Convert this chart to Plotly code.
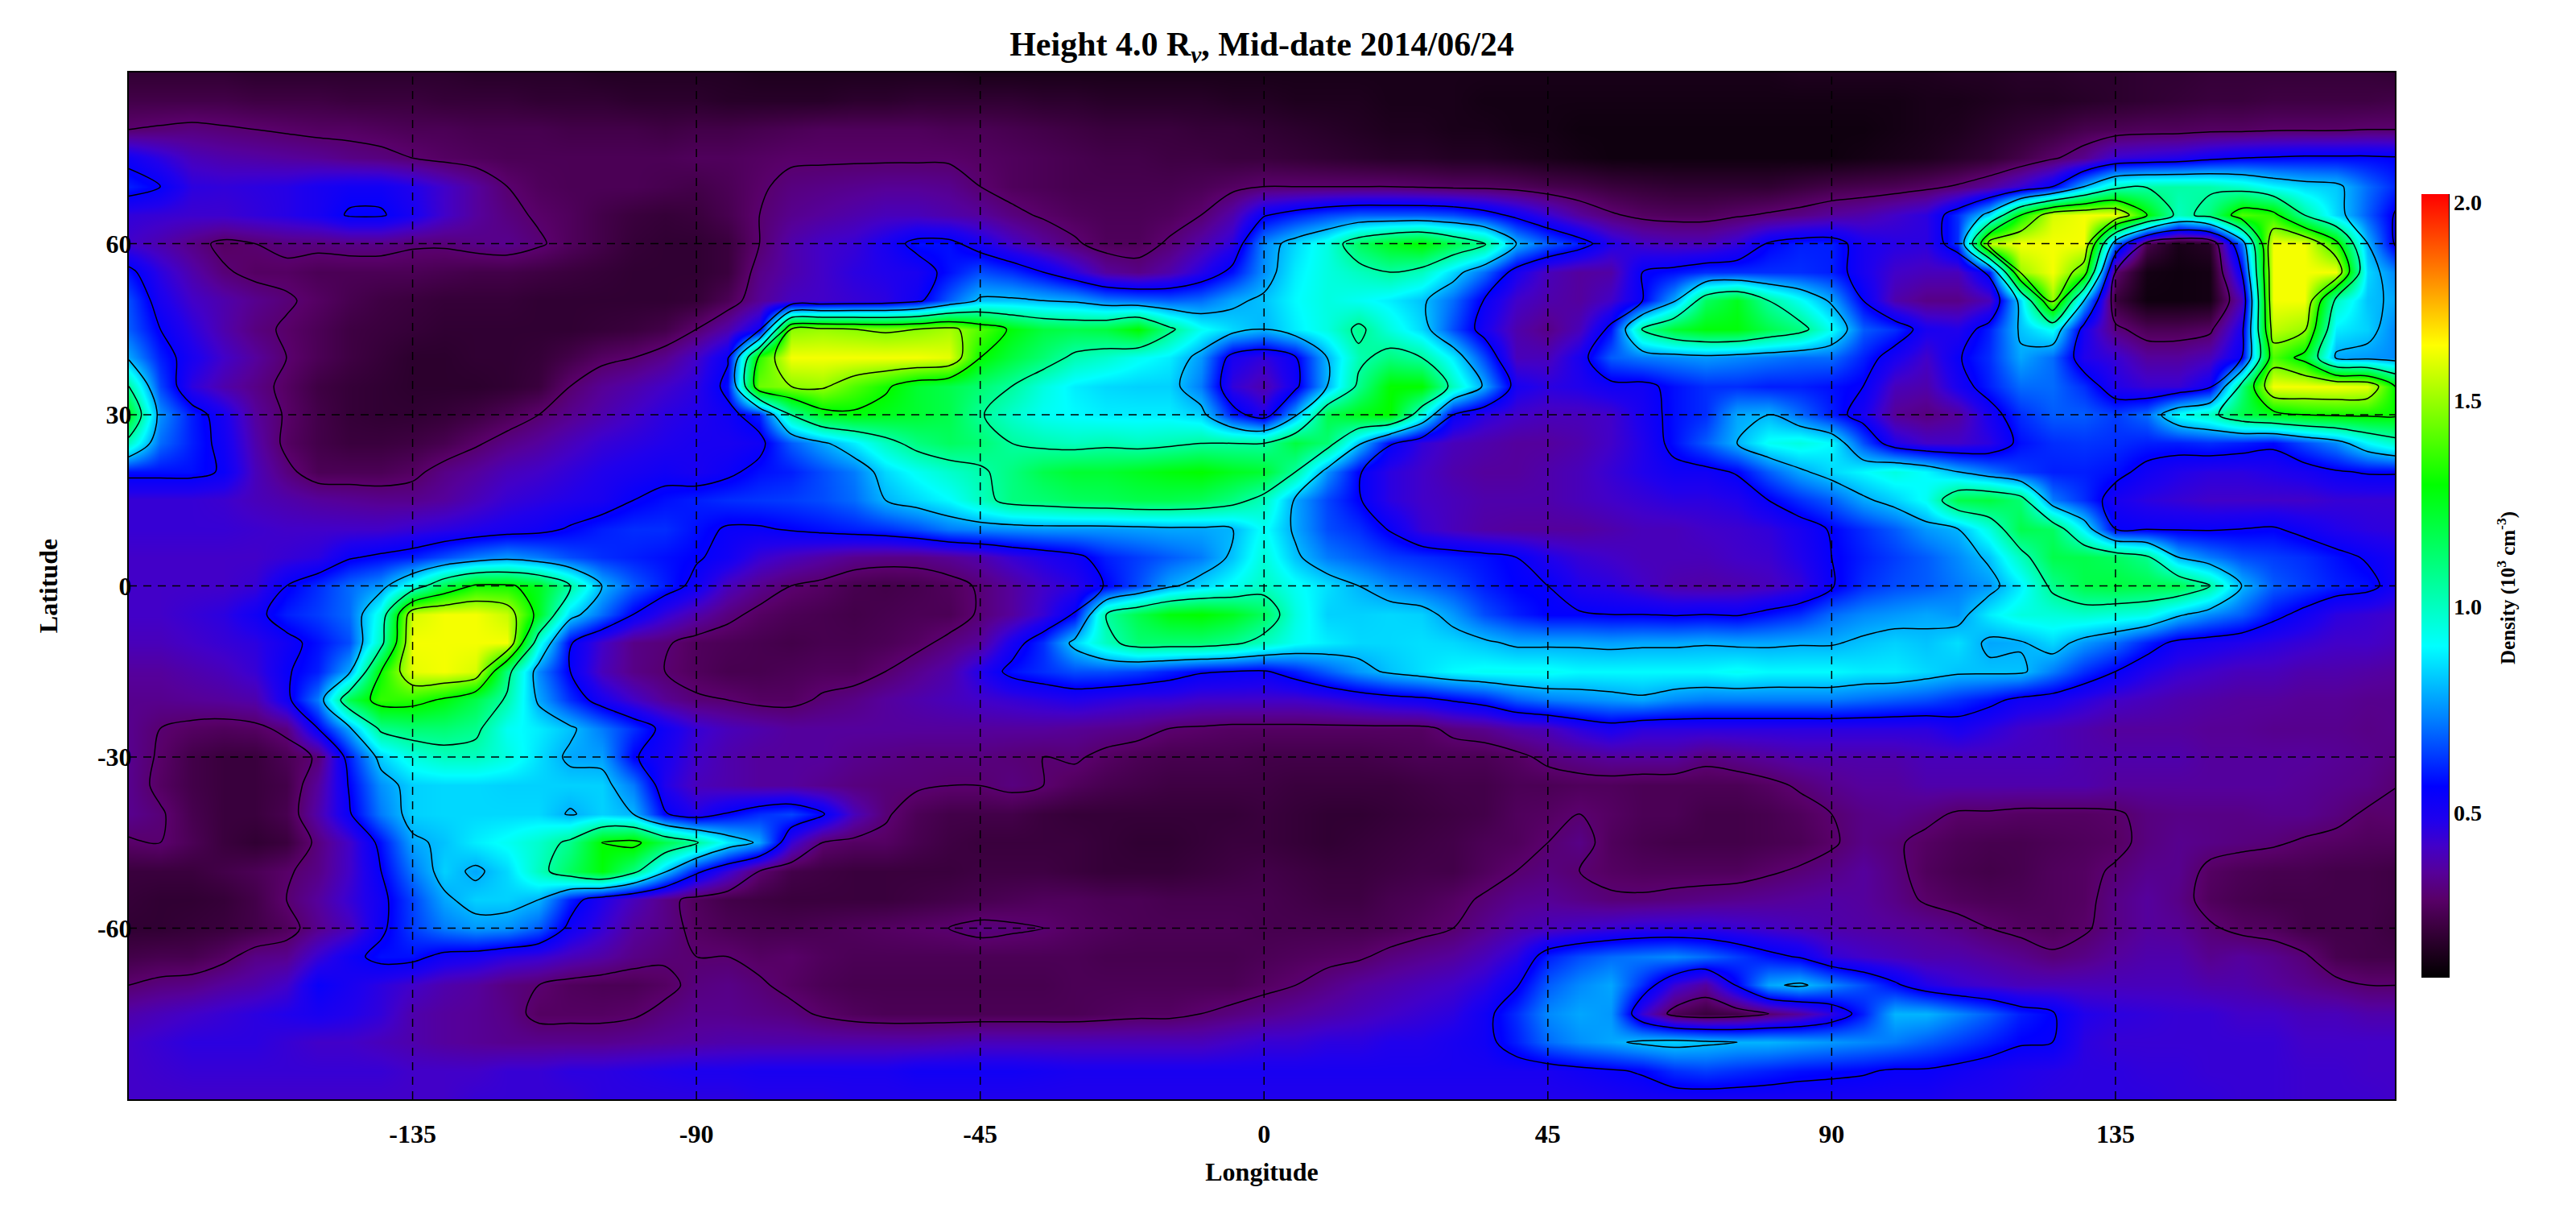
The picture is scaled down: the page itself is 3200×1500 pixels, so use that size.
import numpy as np
import plotly.graph_objects as go

# Density, in units of 0.01 x 10^5 cm^-3.
# Columns: longitude -180..180 step 5. Rows: latitude +90..-90 step 5.
longitudes = list(range(-180, 181, 5))
latitudes = list(range(90, -91, -5))

lat_p90 = [20,20,20,20,19,19,19,19,19, 19,19,18,18,18,18,17,17,17, 17,17,16,16,16,16,16,16,16, 15,15,15,15,15,15,15,15,15, 15,15,15,15,15,15,15,15,15, 15,15,15,15,15,15,15,15,16, 16,16,16,16,17,17,18,18,19, 19,20,20,21,21,21,21,21,21, 20]
lat_p85 = [24,24,24,24,23,23,23,22,22, 22,21,21,21,20,20,20,19,19, 19,18,18,18,18,19,19,20,20, 20,20,19,19,18,18,18,18,17, 17,16,16,16,15,15,15,14,14, 14,14,14,14,14,14,14,14,14, 14,14,14,15,15,16,17,17,18, 19,20,21,22,22,23,23,23,23, 24]
lat_p80 = [30,31,32,31,30,29,28,28,27, 26,26,25,25,25,24,24,24,23, 24,24,25,26,27,27,27,27,26, 26,25,24,23,22,22,22,21,21, 20,19,18,17,16,16,15,15,14, 14,13,13,13,13,13,13,13,13, 13,13,14,15,16,18,20,22,25, 26,27,27,28,28,29,29,29,30, 30]
lat_p75 = [52,46,40,38,37,36,35,33,32, 30,28,27,26,26,26,26,26,26, 27,27,28,29,29,29,29,29,29, 28,27,26,25,24,24,23,23,22, 22,21,20,19,18,18,17,17,16, 15,14,13,13,13,13,13,13,13, 13,14,15,16,18,20,24,29,34, 44,46,48,52,55,56,57,57,57, 56]
lat_p70 = [60,55,46,45,46,47,50,52,52, 48,42,36,30,27,26,26,26,25, 24,26,29,32,33,34,35,35,34, 30,27,26,25,25,25,25,26,28, 30,30,30,30,30,29,28,28,27, 25,24,22,21,20,20,20,20,22, 24,25,26,28,31,36,44,55,80, 100,104,104,103,98,90,85,83,70, 60]
lat_p65 = [45,44,43,43,45,47,50,56,56, 50,42,36,32,29,27,24,22,21, 22,25,30,34,36,38,40,40,38, 36,32,29,27,26,26,27,30,38, 54,60,65,68,68,68,66,60,52, 44,36,31,28,27,27,29,31,33, 36,38,42,46,62,85,130,158,162, 162,130,100,110,140,135,105,85,68, 52]
lat_p60 = [42,38,33,28,30,32,32,33,33, 31,31,33,34,31,27,24,21,20, 20,22,30,38,42,44,50,58,58, 50,42,36,31,27,27,31,38,46, 74,85,95,115,125,130,118,108,80, 68,60,48,42,40,40,45,56,60, 60,50,47,46,62,155,162,162,162, 70,25,15,18,70,162,162,135,80, 50]
lat_p55 = [58,46,38,31,28,28,26,26,26, 26,25,24,24,23,22,21,20,20, 20,22,33,38,42,46,48,50,58, 66,62,55,46,36,33,38,47,58, 75,88,95,100,105,100,85,70,50, 40,36,37,55,58,62,62,62,62, 60,50,42,40,40,58,150,162,140, 30,14,13,14,55,162,162,162,85, 72]
lat_p50 = [66,50,42,38,34,31,28,25,23, 22,21,21,21,20,20,20,20,20, 21,26,35,41,42,44,46,52,68, 82,82,80,78,72,70,68,70,78, 82,90,95,92,88,82,70,54,42, 38,36,42,55,78,115,125,105,92, 78,55,38,33,33,40,85,150,80, 22,13,13,14,40,162,162,100,82, 78]
lat_p45 = [68,55,46,38,32,29,26,23,22, 21,20,20,20,20,20,21,22,24, 30,38,52,148,150,148,146,148,152, 140,128,120,118,120,130,108,92,85, 80,88,95,108,95,85,66,50,38, 33,40,58,106,122,128,128,118,110, 92,68,62,50,48,60,82,92,50, 32,26,26,28,50,155,150,88,84, 72]
lat_p40 = [78,60,50,42,36,30,26,23,21, 19,19,20,20,21,24,28,30,34, 42,54,135,162,162,162,162,162,160, 130,120,112,102,98,92,88,76,50, 45,54,80,102,110,105,88,65,40, 40,50,68,72,74,76,74,72,70, 70,60,50,42,54,62,78,70,48, 44,36,36,40,55,140,125,78,76, 74]
lat_p35 = [105,65,46,38,33,28,23,21,20, 19,19,19,20,22,30,35,38,42, 46,58,144,148,150,140,132,122,118, 112,105,95,88,85,84,84,72,45, 38,52,80,108,130,130,100,78,50, 46,48,52,52,58,62,62,60,60, 58,55,40,38,50,60,70,70,62, 48,44,44,52,110,162,162,162,160, 125]
lat_p30 = [125,75,60,50,36,29,24,21,20, 20,21,23,26,30,34,38,42,46, 48,52,60,105,125,128,125,122,118, 106,98,92,90,88,88,88,84,60, 48,78,118,126,130,95,55,46,42, 40,40,42,50,58,62,78,80,70, 60,50,35,32,36,50,62,68,68, 64,70,92,100,118,125,130,132,132, 130]
lat_p25 = [100,70,60,52,38,28,24,22,22, 23,25,29,33,36,40,44,46,48, 50,50,52,68,78,88,100,110,115, 112,105,102,100,102,100,102,105,105, 105,120,112,82,56,45,40,38,36, 36,38,42,48,58,68,80,92,95, 90,66,48,42,42,46,58,62,63, 62,60,60,62,60,57,66,74,90, 100]
lat_p20 = [58,58,58,54,40,32,26,26,26, 28,33,36,40,42,45,48,50,52, 50,53,58,60,66,72,85,92,98, 103,110,118,122,122,125,128,130,125, 122,105,75,56,46,42,38,36,36, 38,40,44,48,52,52,56,68,78, 85,90,95,90,80,72,64,60,60, 58,52,48,46,46,48,50,54,56, 56]
lat_p15 = [44,44,44,43,40,38,36,35,34, 34,36,40,44,46,48,50,55,58, 60,62,63,64,66,70,80,85,90, 100,110,112,115,116,118,118,116,110, 100,78,65,56,46,42,40,38,38, 38,40,42,44,46,46,48,55,62, 68,78,84,92,118,120,112,72,62, 50,46,44,42,42,42,42,44,44, 44]
lat_p10 = [44,44,44,44,43,42,42,42,42, 44,46,48,50,52,56,60,62,62, 58,54,54,56,58,60,62,66,72, 74,75,76,76,76,77,78,78,80, 92,78,66,62,54,44,40,37,36, 36,36,38,40,40,42,43,45,50, 56,62,68,76,80,95,118,115,88, 55,54,54,54,55,56,52,48,46, 45]
lat_p05 = [42,42,42,42,42,44,46,54,57, 60,66,72,76,72,66,62,60,58, 56,52,44,40,37,34,33,33,35, 38,44,48,52,60,64,68,72,82, 96,82,72,68,64,62,60,58,55, 48,44,42,40,40,40,42,43,48, 55,60,64,68,74,82,100,118,118, 115,108,80,72,66,64,62,58,54, 50]
lat_000 = [42,42,42,42,44,55,62,70,76, 95,118,132,132,125,105,80,68,60, 52,40,34,30,28,25,24,25,27, 31,36,42,46,56,66,78,85,92, 100,92,86,80,74,70,66,60,56, 55,48,46,42,38,37,38,40,44, 54,62,66,68,72,76,88,108,118, 120,118,118,105,80,68,64,60,58, 50]
lat_m05 = [42,42,44,46,52,60,64,70,95, 158,162,162,156,125,85,70,55,45, 38,32,28,26,25,24,25,26,26, 31,36,44,56,105,118,128,130,125, 115,95,84,84,85,84,76,66,60, 56,56,55,55,54,55,54,58,62, 70,74,76,78,76,88,95,96,98, 96,94,82,74,68,58,52,46,44, 42]
lat_m10 = [40,40,42,44,46,52,58,66,100, 162,162,162,162,95,56,42,33,31, 27,26,25,24,25,25,26,28,32, 36,50,62,84,100,112,112,112,108, 100,92,88,85,85,86,85,82,78, 78,78,77,78,78,79,78,78,79, 79,82,84,82,86,78,79,85,76, 70,60,52,50,48,46,44,42,42, 40]
lat_m15 = [36,36,38,40,44,54,60,78,130, 160,162,158,110,74,55,40,33,30, 27,25,25,26,27,27,30,34,38, 48,58,62,66,66,64,60,56,55, 54,60,68,76,82,86,90,92,92, 92,90,90,90,90,90,92,90,90, 90,88,88,85,82,82,82,72,62, 55,48,44,42,40,40,38,38,37, 36]
lat_m20 = [34,34,35,36,38,52,72,118,136, 135,128,118,103,78,62,50,42,35, 31,30,28,28,31,33,36,38,40, 42,44,46,48,46,44,44,42,42, 42,42,44,47,50,52,56,60,68, 72,74,76,78,74,72,72,72,72, 72,70,68,66,62,58,52,50,46, 42,40,38,37,36,36,35,35,34, 34]
lat_m25 = [34,30,28,27,28,32,55,78,108, 112,112,108,92,88,82,72,62,52, 44,40,38,36,36,36,36,36,36, 36,36,36,35,34,33,30,29,28, 28,28,28,28,28,28,32,34,38, 40,46,50,46,46,46,46,46,46, 46,46,46,46,50,46,42,40,38, 36,36,36,35,35,34,34,34,33, 34]
lat_m30 = [34,29,24,22,22,26,31,60,84, 95,100,100,95,86,78,77,56,50, 42,38,36,36,36,34,33,32,32, 32,31,30,31,28,26,25,25,25, 24,24,24,24,25,26,26,26,28, 32,34,36,36,36,32,34,36,38, 38,38,38,40,40,40,40,40,38, 38,38,38,36,36,36,36,35,34, 32]
lat_m35 = [34,28,24,22,22,24,36,56,75, 84,85,85,84,84,84,84,72,48, 40,38,36,36,34,32,31,31,30, 30,32,30,27,25,24,23,23,23, 23,22,22,22,22,23,24,24,26, 26,27,27,26,26,26,26,28,31, 34,36,36,38,38,38,38,38,38, 36,36,36,36,36,36,35,34,33, 30]
lat_m40 = [34,31,25,22,22,25,38,54,72, 84,85,85,85,85,79,84,80,56, 48,56,62,65,56,40,31,26,24, 24,24,22,21,21,21,21,21,21, 22,21,20,20,21,22,23,24,27, 28,30,28,26,26,24,24,25,27, 30,33,34,32,29,29,28,28,28, 29,32,33,33,33,34,34,32,29, 30]
lat_m45 = [29,30,26,22,20,22,32,42,58, 78,82,88,92,98,108,130,134,118, 106,88,78,44,30,28,28,25,23, 22,22,22,22,21,20,20,21,22, 22,21,20,21,22,23,24,26,27, 30,33,27,25,24,24,24,25,26, 29,33,31,28,26,25,25,26,27, 28,32,34,33,32,31,29,28,27, 27]
lat_m50 = [22,22,22,24,26,29,33,42,55, 72,84,78,85,100,115,128,110,82, 58,44,30,24,23,22,22,22,22, 23,23,23,22,21,21,21,22,23, 24,23,22,22,23,24,24,27,30, 32,30,28,27,27,27,27,29,31, 33,36,32,27,25,24,25,27,28, 31,34,34,28,26,25,25,24,24, 23]
lat_m55 = [21,20,20,21,24,30,36,44,52, 65,78,84,84,80,60,48,40,33, 27,24,23,22,22,22,22,23,24, 25,26,27,27,26,26,25,25,25, 25,24,23,23,25,26,28,31,34, 35,33,31,31,32,33,34,35,36, 37,36,33,29,27,26,26,27,28, 33,36,33,27,25,24,24,24,24, 23]
lat_m60 = [20,20,21,22,24,27,34,40,53, 64,72,76,75,68,52,44,36,33, 28,26,25,25,26,27,28,29,30, 32,31,30,28,27,26,26,26,26, 25,25,25,25,26,28,30,34,38, 40,42,44,46,46,46,44,42,40, 38,37,36,35,33,30,28,27,29, 33,36,35,31,28,27,24,24,24, 22]
lat_m65 = [24,25,25,28,33,34,44,52,58, 58,52,50,46,44,40,37,33,31, 30,30,28,29,27,26,26,26,26, 26,26,26,26,25,25,25,25,25, 26,27,28,29,32,34,36,40,46, 60,66,70,72,74,70,64,58,54, 45,42,40,38,38,36,34,31,33, 36,38,38,34,36,34,31,25,24, 24]
lat_m70 = [30,32,33,36,38,42,54,50,46, 42,38,36,32,30,27,26,26,28, 32,33,31,28,26,25,25,25,25, 25,25,25,26,26,26,26,26,26, 28,30,33,36,38,40,42,46,54, 68,74,78,62,44,36,56,78,82, 74,66,57,48,44,42,40,40,40, 40,40,40,38,38,36,34,32,30, 30]
lat_m75 = [38,40,42,44,46,48,50,48,45, 38,36,35,33,28,28,28,29,32, 34,34,33,32,29,27,26,26,26, 26,26,26,26,27,28,28,30,32, 34,36,38,40,42,44,46,52,62, 74,78,76,44,26,22,24,30,36, 46,60,80,80,74,68,60,56,48, 46,45,44,44,42,42,40,40,38, 38]
lat_m80 = [42,44,46,46,46,44,42,42,40, 38,36,35,34,34,34,34,35,36, 37,38,38,38,38,38,38,38,39, 40,40,40,40,40,40,40,40,42, 44,44,46,46,48,48,50,52,60, 70,75,78,82,84,82,80,80,78, 76,74,72,68,64,60,56,55,46, 44,44,44,44,44,44,42,42,42, 42]
lat_m85 = [42,43,44,44,44,44,44,44,44, 42,42,42,44,44,46,46,47,48, 49,49,50,50,50,50,50,52,52, 52,52,51,50,50,50,50,50,50, 50,50,50,50,50,50,50,50,50, 50,52,54,56,62,64,62,60,58, 57,56,54,54,52,50,48,47,46, 46,45,45,44,44,44,43,43,42, 42]
lat_m90 = [42,42,42,42,42,42,42,42,42, 42,42,44,44,44,44,46,46,46, 46,46,47,47,47,48,48,48,48, 48,48,48,48,48,48,48,48,48, 48,48,48,48,48,48,48,48,48, 48,48,49,50,50,50,50,50,50, 50,50,50,50,48,48,47,46,46, 46,46,45,45,44,44,43,43,43, 42]

density_rows = [lat_p90, lat_p85, lat_p80, lat_p75, lat_p70, lat_p65, lat_p60, lat_p55, lat_p50,
                lat_p45, lat_p40, lat_p35, lat_p30, lat_p25, lat_p20, lat_p15, lat_p10, lat_p05,
                lat_000, lat_m05, lat_m10, lat_m15, lat_m20, lat_m25, lat_m30, lat_m35, lat_m40,
                lat_m45, lat_m50, lat_m55, lat_m60, lat_m65, lat_m70, lat_m75, lat_m80, lat_m85, lat_m90]

lon_ticks = [-135, -90, -45, 0, 45, 90, 135]
lat_ticks = [60, 30, 0, -30, -60]
cbar_ticks = [0.5, 1.0, 1.5, 1.98]
cbar_labels = ["0.5", "1.0", "1.5", "2.0"]
contour_start, contour_end, contour_step = 0.30, 1.30, 0.25
contour_top = 1.48
z_min, z_max = 0.1, 2.0

colorscale = [
    [0.000, "#000000"], [0.032, "#1e001e"], [0.066, "#3c0040"], [0.100, "#580068"],
    [0.134, "#560099"], [0.168, "#4200c8"], [0.200, "#2000ec"], [0.244, "#0000ff"],
    [0.330, "#0080ff"], [0.423, "#00ffff"], [0.525, "#00ff80"], [0.629, "#00ff00"],
    [0.720, "#80ff00"], [0.807, "#ffff00"], [0.900, "#ff8000"], [1.000, "#ff0000"],
]

for row in density_rows:
    assert len(row) == len(longitudes), len(row)
z = np.array(density_rows) / 100.0

SERIF = "Liberation Serif"
W, H = 3200, 1500
L, R, T, B = 160, 2975, 90, 1365

fig = go.Figure()
fig.add_trace(go.Heatmap(
    x=longitudes, y=latitudes, z=z, zmin=z_min, zmax=z_max, zsmooth="best",
    colorscale=colorscale,
    colorbar=dict(
        thickness=34, thicknessmode="pixels", len=973, lenmode="pixels",
        x=(3008 - L) / (R - L), xref="paper", xanchor="left", xpad=0,
        y=(B - 1214) / (B - T), yref="paper", yanchor="bottom", ypad=0,
        outlinewidth=0, tickmode="array", tickvals=cbar_ticks, ticktext=cbar_labels,
        ticks="", tickfont=dict(family=SERIF, size=28, color="black", weight="bold"),
    ),
))
fig.add_trace(go.Contour(
    x=longitudes, y=latitudes, z=z, showscale=False, hoverinfo="skip",
    contours=dict(coloring="none", start=contour_start, end=contour_end, size=contour_step),
    line=dict(color="black", width=1.5, smoothing=0.9),
))
fig.add_trace(go.Contour(
    x=longitudes, y=latitudes, z=z, showscale=False, hoverinfo="skip",
    contours=dict(coloring="none", start=contour_top, end=contour_top, size=1),
    line=dict(color="black", width=1.5, smoothing=0.9),
))

shapes = []
for lon in lon_ticks:
    shapes.append(dict(type="line", xref="x", yref="paper", x0=lon, x1=lon, y0=0, y1=1,
                       line=dict(color="black", width=1.5, dash="10px,8px"), layer="above"))
for lat in lat_ticks:
    shapes.append(dict(type="line", xref="paper", yref="y", x0=0, x1=1, y0=lat, y1=lat,
                       line=dict(color="black", width=1.5, dash="10px,8px"), layer="above"))
shapes.append(dict(type="line", xref="paper", yref="paper",
                   x0=(3042 - L) / (R - L), x1=(3042 - L) / (R - L),
                   y0=(B - 1214) / (B - T), y1=(B - 241) / (B - T),
                   line=dict(color="black", width=2), layer="above"))

axis_font = dict(family=SERIF, size=32, color="black", weight="bold")
fig.update_layout(
    width=W, height=H, autosize=False, paper_bgcolor="white", plot_bgcolor="white",
    showlegend=False,
    margin=dict(l=L, r=W - R, t=T, b=H - B, pad=0),
    title=dict(text="Height 4.0 R<sub><i>v</i></sub>, Mid-date 2014/06/24",
               x=(L + R) / 2 / W, xanchor="center", y=1 - 54 / H, yanchor="middle",
               font=dict(family=SERIF, size=42, color="black", weight="bold")),
    shapes=shapes,
    annotations=[dict(text="Density (10<sup>3</sup> cm<sup>-3</sup>)", textangle=-90,
                      xref="paper", yref="paper", x=(3113 - L) / (R - L), y=(B - 730) / (B - T),
                      xanchor="center", yanchor="middle", showarrow=False,
                      font=dict(family=SERIF, size=25, color="black", weight="bold"))],
    xaxis=dict(range=[-180, 179.3], tickmode="array", tickvals=lon_ticks,
               ticktext=[str(v) for v in lon_ticks], tickfont=axis_font, ticks="",
               ticklabelstandoff=14, showgrid=False, zeroline=False, showline=True,
               linecolor="black", linewidth=2, mirror=True,
               title=dict(text="Longitude", font=axis_font, standoff=18)),
    yaxis=dict(range=[-90, 90], tickmode="array", tickvals=lat_ticks,
               ticktext=[str(v) for v in lat_ticks], tickfont=axis_font, ticks="",
               ticklabelstandoff=-12, showgrid=False, zeroline=False, showline=True,
               linecolor="black", linewidth=2, mirror=True,
               title=dict(text="Latitude", font=axis_font, standoff=40)),
)
fig.write_html("out.html", config={"displayModeBar": False},
               post_script="document.body.style.margin='0';document.body.style.overflow='hidden';")
